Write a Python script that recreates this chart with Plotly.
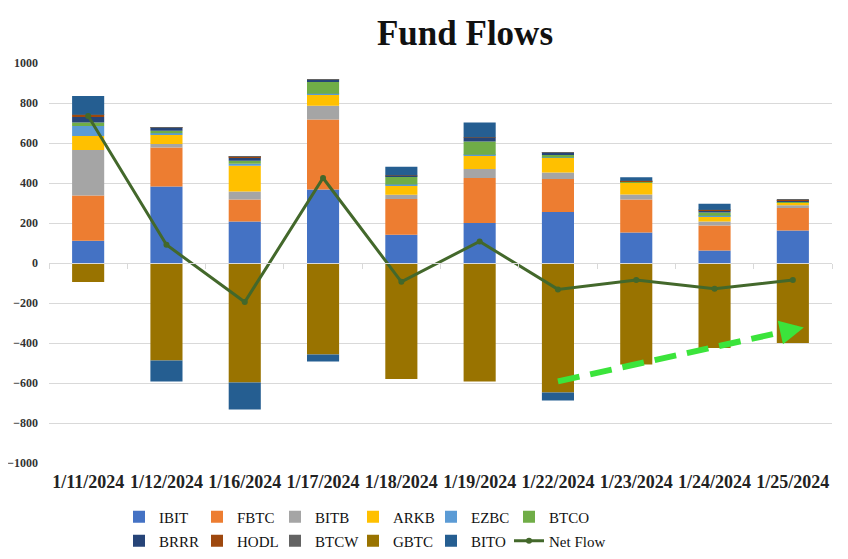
import plotly.graph_objects as go

dates = ["1/11/2024", "1/12/2024", "1/16/2024", "1/17/2024", "1/18/2024",
         "1/19/2024", "1/22/2024", "1/23/2024", "1/24/2024", "1/25/2024"]

IBIT = [111, 383, 208, 367, 141, 200, 255, 153, 63, 163]
FBTC = [227, 195, 109, 350, 179, 225, 165, 164, 125, 112]
BITB = [227, 17, 41, 69, 21, 45, 33, 25, 20, 14]
ARKB = [70, 46, 128, 55, 45, 66, 72, 58, 25, 11]
EZBC = [50, 8, 10, 5, 6, 5, 3, 3, 3, 2]
BTCO = [17, 12, 15, 59, 40, 67, 12, 3, 17, 3]
BRRR = [28, 14, 18, 10, 3, 17, 12, 3, 10, 9]
HODL = [11, 3, 3, 2, 2, 2, 2, 1, 2, 1]
BTCW = [1, 1, 1, 1, 0, 0, 1, 1, 1, 1]
GBTC = [-95, -487, -597, -458, -580, -592, -647, -508, -425, -400]
BITO = [93, -105, -136, -34, 44, 75, -40, 18, 30, 0]
NET_FLOW = [735, 91, -195, 425, -94, 108, -132, -85, -129, -85]

y_ticks = [-1000, -800, -600, -400, -200, 0, 200, 400, 600, 800, 1000]

series = [
    ("IBIT", IBIT, "#4472C4", "legend"),
    ("FBTC", FBTC, "#ED7D31", "legend"),
    ("BITB", BITB, "#A5A5A5", "legend"),
    ("ARKB", ARKB, "#FFC000", "legend"),
    ("EZBC", EZBC, "#5B9BD5", "legend"),
    ("BTCO", BTCO, "#70AD47", "legend4"),
    ("BRRR", BRRR, "#264478", "legend2"),
    ("HODL", HODL, "#9E480E", "legend2"),
    ("BTCW", BTCW, "#636363", "legend2"),
    ("GBTC", GBTC, "#997300", "legend2"),
    ("BITO", BITO, "#255E91", "legend2"),
]

# trend arrow annotation (start at 1/22 index, end past 1/25)
ARROW_START = (6.0, -592)
ARROW_END = (9.14, -322)

fig = go.Figure()
for name, vals, color, leg in series:
    fig.add_trace(go.Bar(
        x=dates, y=vals, name=name, width=0.41,
        marker=dict(color=color, line=dict(width=0)),
        legend=leg,
    ))

fig.add_trace(go.Scatter(
    x=dates, y=NET_FLOW, name="Net Flow", mode="lines+markers",
    line=dict(color="#43682B", width=3),
    marker=dict(color="#43682B", size=6),
    legend="legend3",
))

# dummy trace for the zero-line axis with boundary ticks
fig.add_trace(go.Scatter(x=[], y=[], xaxis="x2", showlegend=False, hoverinfo="skip"))

serif = "Liberation Serif"
GREEN = "#3BE43B"

# dashed arrow body
fig.add_shape(type="line", xref="x", yref="y",
              x0=ARROW_START[0], y0=ARROW_START[1],
              x1=ARROW_END[0] - 0.2, y1=ARROW_END[1] - 17,
              line=dict(color=GREEN, width=6, dash="22px,11px"))
fig.add_annotation(x=ARROW_END[0], y=ARROW_END[1], ax=ARROW_END[0] - 0.3, ay=ARROW_END[1] - 26,
                   xref="x", yref="y", axref="x", ayref="y", text="",
                   showarrow=True, arrowhead=2, arrowsize=0.8, arrowwidth=6,
                   arrowcolor=GREEN)

leg_font = dict(family=serif, size=15, color="#111111")
FW, FH = 840, 551          # page has an 8px body margin
L, R, T, B = 41, 16, 55, 96
W = FW - L - R
lx = (111 - L) / W
step = 78 / W
row1, row2 = -0.135, -0.195

common = dict(orientation="h", xanchor="left", yanchor="middle", traceorder="normal",
              font=leg_font, bgcolor="rgba(0,0,0,0)")

fig.update_layout(
    width=FW, height=FH,
    margin=dict(l=L, r=R, t=T, b=B, autoexpand=False),
    paper_bgcolor="white", plot_bgcolor="white",
    barmode="relative",
    title=dict(text="<b>Fund Flows</b>", x=457 / FW, xref="container", xanchor="center",
               y=1 - 25 / FH, yref="container", yanchor="middle",
               font=dict(family=serif, size=35, color="#111111")),
    font=dict(family=serif, color="#222222"),
    xaxis=dict(type="category", categoryorder="array", categoryarray=dates,
               range=[-0.5, 9.5], showgrid=False, showline=False, ticks="",
               tickfont=dict(family=serif, size=18, color="#222222", weight="bold"),
               ticklabelstandoff=6, zeroline=False, automargin=False),
    xaxis2=dict(overlaying="x", anchor="free", position=0.5, range=[-0.5, 9.5],
                tickmode="array", tickvals=[i - 0.5 for i in range(11)],
                showticklabels=False, ticks="outside", ticklen=5, tickcolor="#D9D9D9",
                showline=True, linecolor="#D9D9D9", linewidth=1, showgrid=False,
                zeroline=False, fixedrange=True),
    yaxis=dict(range=[-1000, 1000], tickmode="array", tickvals=y_ticks,
               showgrid=True, gridcolor="#D9D9D9", gridwidth=1, zeroline=False,
               tickfont=dict(family=serif, size=12, color="#333333", weight="bold"),
               ticks="", ticklabelstandoff=10, automargin=False),
    legend=dict(x=lx, y=row1, entrywidth=33, entrywidthmode="pixels", **common),
    legend2=dict(x=lx, y=row2, entrywidth=33, entrywidthmode="pixels", **common),
    legend3=dict(x=lx + 5 * step, y=row2, **common),
    legend4=dict(x=lx + 5 * step, y=row1, **common),
    showlegend=True,
)

fig.write_html("out.html")
